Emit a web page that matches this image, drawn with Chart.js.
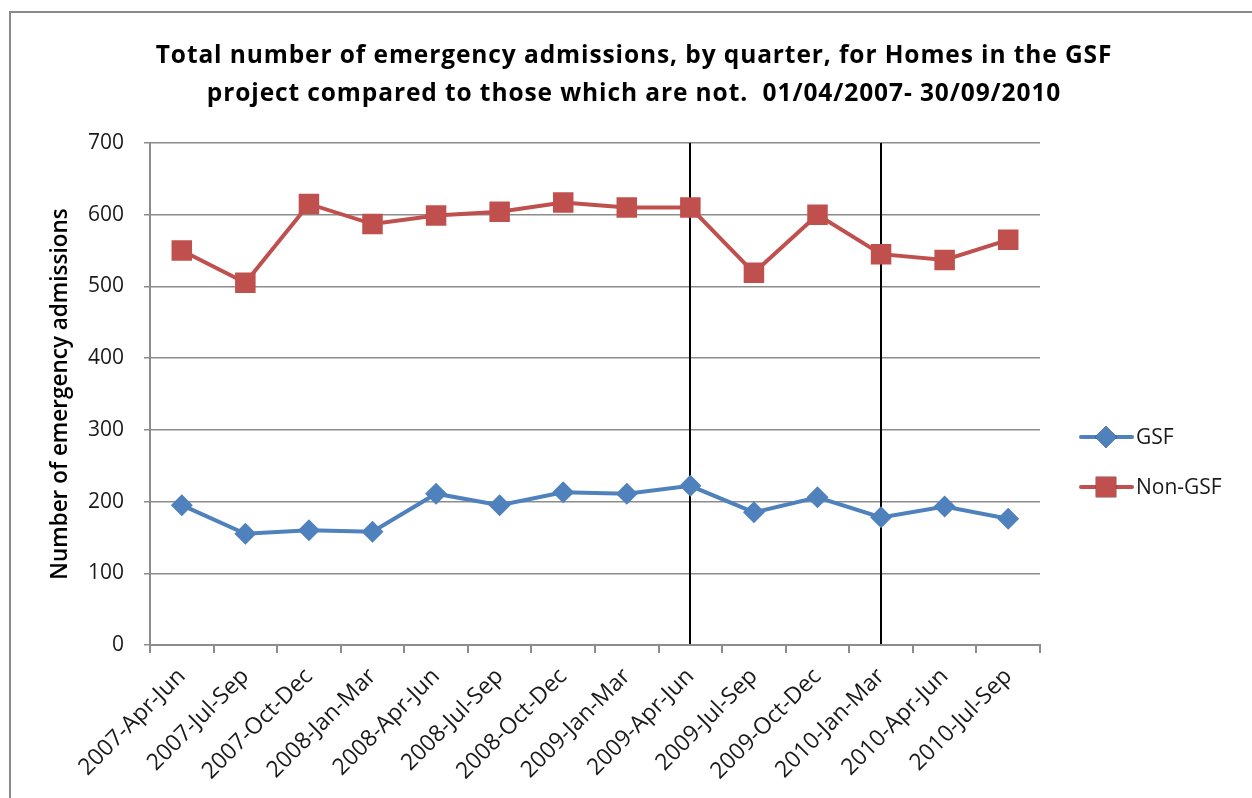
<!DOCTYPE html>
<html>
<head>
<meta charset="utf-8">
<script src="https://cdn.jsdelivr.net/npm/chart.js@4.4.0/dist/chart.umd.min.js"></script>
<style>
    html, body { margin: 0; padding: 0; background: #ffffff; }
    #frame {
        position: absolute; left: 9px; top: 11px;
        width: 1270px; height: 820px;
        border: 2px solid #8a8a8a;
    }
    #wrap { position: absolute; left: 0; top: 0; width: 1252px; height: 798px; }
</style>
</head>
<body>
<div id="frame"></div>
<div id="wrap"><canvas id="chart" width="1252" height="798"></canvas></div>
<script>
// ======================================================
//                    DATA
// ======================================================

const quarters = [
    "2007-Apr-Jun", "2007-Jul-Sep", "2007-Oct-Dec", "2008-Jan-Mar",
    "2008-Apr-Jun", "2008-Jul-Sep", "2008-Oct-Dec", "2009-Jan-Mar",
    "2009-Apr-Jun", "2009-Jul-Sep", "2009-Oct-Dec", "2010-Jan-Mar",
    "2010-Apr-Jun", "2010-Jul-Sep"
];

const gsfValues = [195, 155, 160, 158, 211, 195, 213, 211, 222, 185, 206, 178, 193, 176];
const nonGsfValues = [550, 505, 615, 587, 599, 604, 617, 610, 610, 519, 600, 545, 537, 565];

// quarters marked with a vertical line
const markerQuarters = ["2009-Apr-Jun", "2010-Jan-Mar"];

const titleLines = [
    "Total number of emergency admissions, by quarter, for Homes in the GSF",
    "project compared to those which are not.  01/04/2007- 30/09/2010"
];

const yTitle = "Number of emergency admissions";

// ======================================================
//                    STYLES
// ======================================================

const BLUE = "#4f81bd";
const RED = "#c0504d";
const GRID = "#8c8c8c";
const TEXT = "#1a1a1a";
const FONT = "'Open Sans', sans-serif";

// ======================================================
//        PLUGIN : titre, lignes verticales, légende
// ======================================================

const extrasPlugin = {
    id: "extras",
    beforeDatasetsDraw(chart) {
        const { ctx, chartArea, scales } = chart;
        ctx.save();
        ctx.strokeStyle = "#000000";
        ctx.lineWidth = 2;
        markerQuarters.forEach(q => {
            const x = Math.round(scales.x.getPixelForValue(quarters.indexOf(q)));
            ctx.beginPath();
            ctx.moveTo(x, chartArea.top);
            ctx.lineTo(x, chartArea.bottom - 1);
            ctx.stroke();
        });
        ctx.restore();
    },
    afterDraw(chart) {
        const { ctx } = chart;
        ctx.save();

        // —————— Title ——————
        ctx.fillStyle = "#000000";
        ctx.font = "bold 24.5px " + FONT;
        ctx.letterSpacing = "0.9px";
        ctx.textAlign = "center";
        ctx.textBaseline = "middle";
        ctx.fillText(titleLines[0], 634, 56);
        ctx.fillText(titleLines[1], 634, 94);
        ctx.letterSpacing = "0px";

        // —————— Legend ——————
        ctx.textAlign = "left";
        ctx.font = "21px " + FONT;
        const rows = [437, 487];
        chart.data.datasets.forEach((ds, i) => {
            const y = rows[i];
            ctx.strokeStyle = ds.borderColor;
            ctx.lineWidth = 4;
            ctx.lineCap = "round";
            ctx.beginPath();
            ctx.moveTo(1081, y);
            ctx.lineTo(1132, y);
            ctx.stroke();
            Chart.helpers.drawPoint(ctx, {
                pointStyle: ds.pointStyle,
                radius: ds.pointRadius,
                borderWidth: 0
            }, 1106, y);
            ctx.fillStyle = ds.borderColor;
            ctx.fill();
            ctx.fillStyle = TEXT;
            ctx.fillText(ds.label, 1136, y + 1);
        });

        ctx.restore();
    }
};

// ======================================================
//                    CHART
// ======================================================

new Chart(document.getElementById("chart"), {
    type: "line",
    data: {
        labels: quarters,
        datasets: [
            {
                label: "GSF",
                data: gsfValues,
                borderColor: BLUE,
                backgroundColor: BLUE,
                borderWidth: 4,
                pointStyle: "rectRot",
                pointRadius: 11,
                pointBorderWidth: 0,
                tension: 0
            },
            {
                label: "Non-GSF",
                data: nonGsfValues,
                borderColor: RED,
                backgroundColor: RED,
                borderWidth: 4,
                pointStyle: "rect",
                pointRadius: 14.5,
                pointBorderWidth: 0,
                tension: 0
            }
        ]
    },
    options: {
        responsive: false,
        animation: false,
        layout: { padding: { top: 143, right: 212, bottom: 0, left: 45 } },
        plugins: {
            legend: { display: false },
            title: { display: false },
            tooltip: { enabled: false }
        },
        scales: {
            x: {
                offset: true,
                afterFit: s => { s.height = 153; },
                grid: {
                    offset: true,
                    drawOnChartArea: false,
                    color: GRID,
                    tickLength: 8,
                    lineWidth: 2
                },
                border: { color: GRID, width: 2 },
                ticks: {
                    autoSkip: false,
                    minRotation: 45,
                    maxRotation: 45,
                    padding: 10,
                    color: TEXT,
                    font: { family: FONT, size: 23 }
                }
            },
            y: {
                min: 0,
                max: 700,
                afterFit: s => { s.width = 105; },
                grid: { color: GRID, tickLength: 6, lineWidth: 1.5 },
                border: { color: GRID, width: 2 },
                ticks: {
                    stepSize: 100,
                    padding: 20,
                    color: TEXT,
                    font: { family: FONT, size: 21 }
                },
                title: {
                    display: true,
                    text: yTitle,
                    color: "#000000",
                    padding: { top: 2, bottom: 0 },
                    font: { family: FONT, size: 22.5, weight: "600" }
                }
            }
        }
    },
    plugins: [extrasPlugin]
});
</script>
</body>
</html>
